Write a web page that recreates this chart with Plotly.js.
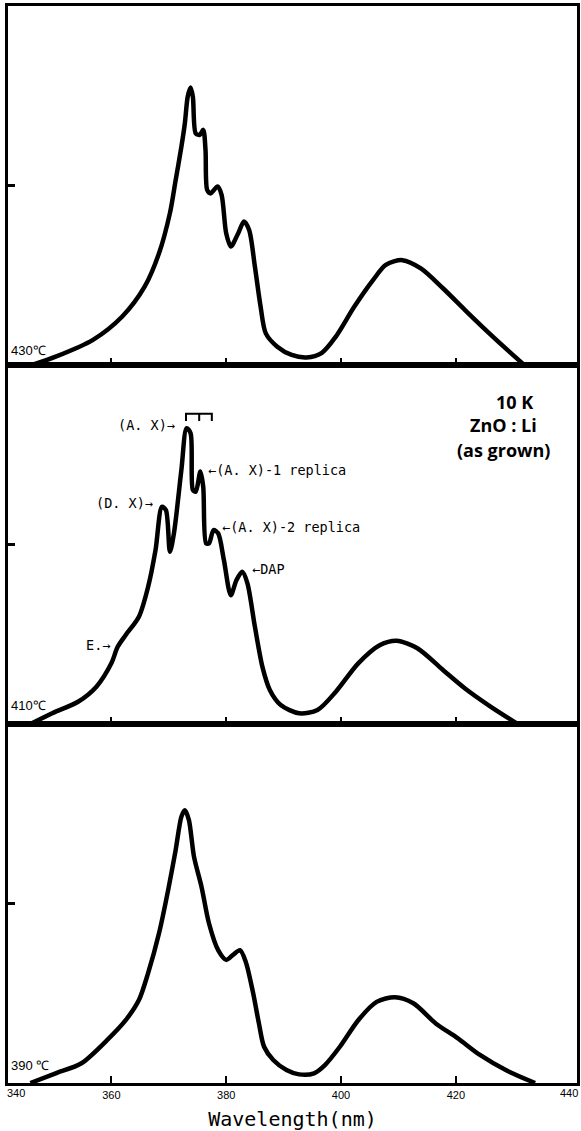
<!DOCTYPE html>
<html><head><meta charset="utf-8">
<script src="https://cdn.plot.ly/plotly-3.0.1.min.js"></script>
<style>html,body{margin:0;padding:0;background:#fff}</style>
</head><body><div id="chart" style="width:581px;height:1131px"></div>
<script>
// Wavelength (nm) and PL intensity (a.u., 0-100 = full panel height)
const wl430 = [346.2,350.3,356.8,361.9,365.8,368.3,370.2,371.2,372.2,372.8,373.3,373.8,374.2,374.7,375.4,376.0,376.4,376.7,377.3,378.5,379.2,380.0,380.8,382.1,383.1,384.0,385.0,386.0,386.9,388.9,391.4,394.0,396.6,399.1,402.3,405.6,407.8,410.7,413.9,417.8,421.6,425.5,429.3,431.9];
const pl430 = [0,2.3,7.0,13.5,21.8,31.1,42.3,51.5,60.8,67.3,74.7,77.3,74.7,64.5,64.1,65.5,59.9,48.7,47.8,49.7,47.4,36.7,33.0,36.7,40.0,37.6,27.4,16.2,8.8,5.1,2.8,2.1,3.3,7.9,16.2,23.7,27.9,29.2,26.9,21.3,15.3,9.3,3.7,0];

const wl410 = [345.9,349.7,354.2,357.4,360.0,361.1,362.5,364.8,366.4,367.7,368.8,369.5,370.2,370.9,372.2,373.1,373.8,374.2,374.7,375.5,376.0,376.5,377.0,377.8,378.6,379.6,380.8,381.8,382.8,383.7,385.0,386.3,387.6,389.5,392.7,395.9,399.1,403.0,406.8,409.7,413.3,417.8,421.6,426.1,430.6];
const pl410 = [0,3.0,6.2,10.4,16.9,21.5,24.8,29.9,38.2,48.5,60.5,59.6,48.0,53.1,70.8,82.4,81.0,65.2,64.7,70.3,66.1,50.3,50.3,54.0,53.1,45.7,35.9,40.1,42.4,39.2,27.1,16.0,9.5,5.3,3.0,3.9,9.0,16.9,22.0,23.2,21.1,15.0,9.9,4.8,0.2];

const wl390 = [345.9,350.3,354.8,359.3,362.5,364.8,366.4,368.3,369.9,371.2,372.2,372.8,373.5,374.4,375.7,377.0,378.6,380.0,381.2,382.4,383.4,384.7,385.7,386.6,388.2,390.5,392.7,395.3,397.2,399.8,403.0,406.2,409.4,412.6,416.5,420.3,424.2,428.7,433.8];
const pl390 = [0,2.7,5.5,12.0,17.5,23.1,30.6,41.7,53.8,64.9,74.2,76.0,73.3,63.0,54.7,44.5,37.0,34.3,35.7,37.0,33.8,25.0,16.6,10.1,6.4,3.6,2.4,2.7,5.0,10.1,17.5,22.6,23.9,22.2,16.6,12.5,7.8,3.6,0];

const panelLabels = ["430℃", "410℃", "390 ℃"];
const tickVals = [340, 360, 380, 400, 420, 440];
const tickText = ["340", "360", "380", "400", "420", "440"];
const xRange = [342, 441.1];

// peak labels in the 410 ℃ panel
const peakText = ["(A. X)→", "(D. X)→", "←(A. X)-1 replica", "←(A. X)-2 replica", "←DAP", "E.→"];
const peakX = [371.4, 367.6, 376.5, 378.9, 384.1, 360.1];
const peakY = [83.3, 61.6, 70.8, 54.9, 43.2, 22.0];
const peakAnchor = ["right", "right", "left", "left", "left", "right"];

const lineStyle = {color: "#000", width: 4.5, shape: "spline", smoothing: 0.8};
const traces = [
  {x: wl430, y: pl430, xaxis: "x", yaxis: "y", mode: "lines", line: lineStyle, hoverinfo: "skip"},
  {x: wl410, y: pl410, xaxis: "x2", yaxis: "y2", mode: "lines", line: lineStyle, hoverinfo: "skip"},
  {x: wl390, y: pl390, xaxis: "x3", yaxis: "y3", mode: "lines", line: lineStyle, hoverinfo: "skip"}
];

const innerTicks = tickVals.slice(1, -1);
const innerText = tickText.slice(1, -1);
function xax(anchor, showLabels) {
  return {
    anchor: anchor, domain: [0, 1], range: xRange, showgrid: false, zeroline: false,
    showline: true, mirror: true, linecolor: "#000", linewidth: 3,
    ticks: "inside", ticklen: 7, tickwidth: 2, tickcolor: "#000",
    tickvals: innerTicks, ticktext: innerText, showticklabels: showLabels,
    tickfont: {family: "Liberation Sans, Arial, sans-serif", size: 11, color: "#000"}
  };
}
function yax(anchor, dom) {
  return {
    anchor: anchor, domain: dom, range: [0, 100], showgrid: false, zeroline: false,
    showline: true, mirror: true, linecolor: "#000", linewidth: 3,
    ticks: "inside", ticklen: 7, tickwidth: 3, tickcolor: "#000",
    tickvals: [50], showticklabels: false
  };
}

const annotations = [];
const panelY = ["y", "y2", "y3"];
const panelLabelVal = [3.9, 5.3, 5.0];
panelLabels.forEach((t, i) => annotations.push({
  text: t, xref: "paper", x: 0, xanchor: "left", xshift: 1, yref: panelY[i], y: panelLabelVal[i],
  yanchor: "middle", showarrow: false, font: {family: "Liberation Sans, Arial, sans-serif", size: 13, color: "#000"}
}));
peakText.forEach((t, i) => annotations.push({
  text: t, xref: "x2", yref: "y2", x: peakX[i], y: peakY[i], xanchor: peakAnchor[i], yanchor: "middle",
  showarrow: false, font: {family: "DejaVu Sans Mono, monospace", size: 13.5, color: "#000"}
}));
// end tick labels placed at the frame corners
annotations.push({text: tickText[0], xref: "paper", x: 0, xanchor: "left", xshift: -3, yref: "paper", y: 0, yanchor: "top", yshift: -2,
  showarrow: false, font: {family: "Liberation Sans, Arial, sans-serif", size: 11, color: "#000"}});
annotations.push({text: tickText[tickText.length - 1], xref: "paper", x: 1, xanchor: "right", xshift: 3, yref: "paper", y: 0, yanchor: "top", yshift: -2,
  showarrow: false, font: {family: "Liberation Sans, Arial, sans-serif", size: 11, color: "#000"}});
const bigFont = {family: "Open Sans, Noto Sans, sans-serif", size: 18, color: "#000", weight: 700};
annotations.push({text: "<b>10 K</b>", xref: "paper", yref: "paper", x: 0.9262, y: 0.6323, xanchor: "right", yanchor: "middle", showarrow: false, font: bigFont});
annotations.push({text: "<b>ZnO : Li</b>", xref: "paper", yref: "paper", x: 0.870, y: 0.611, xanchor: "center", yanchor: "middle", showarrow: false, font: bigFont});
annotations.push({text: "<b>(as grown)</b>", xref: "paper", yref: "paper", x: 0.871, y: 0.5877, xanchor: "center", yanchor: "middle", showarrow: false, font: bigFont});

const shapes = [{
  type: "path", xref: "x2", yref: "y2",
  path: "M373.0,84.4 L373.0,86.4 L377.5,86.4 L377.5,84.4 M375.3,86.4 L375.3,84.4",
  line: {color: "#000", width: 2}
}];

const layout = {
  width: 581, height: 1131, margin: {l: 8, r: 4, t: 6, b: 48},
  paper_bgcolor: "#fff", plot_bgcolor: "#fff", showlegend: false,
  xaxis: xax("y", false), yaxis: yax("x", [0.6667, 1]),
  xaxis2: xax("y2", false), yaxis2: yax("x2", [0.3333, 0.6667]),
  xaxis3: Object.assign(xax("y3", true), {
    title: {text: "Wavelength(nm)", standoff: 12, font: {family: "DejaVu Sans Mono, monospace", size: 20, color: "#000"}}
  }),
  yaxis3: yax("x3", [0, 0.3333]),
  annotations: annotations, shapes: shapes
};
Plotly.newPlot("chart", traces, layout, {staticPlot: true});
</script></body></html>
